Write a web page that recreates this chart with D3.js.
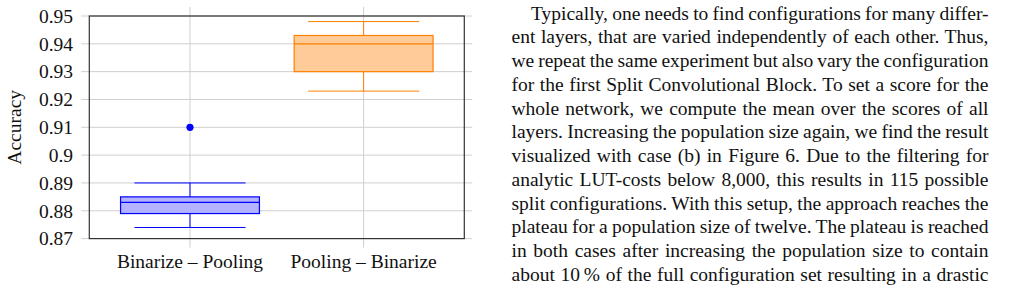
<!DOCTYPE html>
<html lang="en">
<head>
<meta charset="UTF-8" />
<title>Box plot</title>
<script src="https://d3js.org/d3.v7.min.js"></script>
<style>
    body { margin: 0; background: #fff; }
</style>
</head>
<body>
<svg width="1021" height="293"></svg>
<script>
// chart data
const categories = ["Binarize \u2013 Pooling", "Pooling \u2013 Binarize"];
const whiskerLow = [0.874, 0.923];
const q1 = [0.879, 0.930];
const median = [0.883, 0.940];
const q3 = [0.885, 0.943];
const whiskerHigh = [0.890, 0.948];
const outliers = [[0.910], []];
const yTicks = [0.87, 0.88, 0.89, 0.9, 0.91, 0.92, 0.93, 0.94, 0.95];
const strokeColors = ["#0000ff", "#ff8000"];
const fillColors = ["#b3b3ff", "#ffcc99"];

// paragraph next to the figure
const paragraph = [
    "Typically, one needs to find configurations for many differ-",
    "ent layers, that are varied independently of each other. Thus,",
    "we repeat the same experiment but also vary the configuration",
    "for the first Split Convolutional Block. To set a score for the",
    "whole network, we compute the mean over the scores of all",
    "layers. Increasing the population size again, we find the result",
    "visualized with case (b) in Figure 6. Due to the filtering for",
    "analytic LUT-costs below 8,000, this results in 115 possible",
    "split configurations. With this setup, the approach reaches the",
    "plateau for a population size of twelve. The plateau is reached",
    "in both cases after increasing the population size to contain",
    "about 10\u2009% of the full configuration set resulting in a drastic"
];

const serif = "'Liberation Serif', 'DejaVu Serif', serif";
const svg = d3.select("svg");
const plotLeft = 89.3, plotRight = 464.3, plotTop = 16, plotBottom = 238.6;

const x = d3.scaleLinear().domain([0.42, 2.58]).range([plotLeft, plotRight]);
const y = d3.scaleLinear().domain([0.87, 0.95]).range([plotBottom, plotTop]);

// grid (sticks out a bit past the frame)
const grid = svg.append("g").attr("stroke", "#cfcfcf").attr("stroke-width", 1);
grid.selectAll(".hg").data(yTicks).enter().append("line")
    .attr("x1", plotLeft - 8).attr("x2", plotRight + 8)
    .attr("y1", d => y(d)).attr("y2", d => y(d));
grid.selectAll(".vg").data(categories).enter().append("line")
    .attr("x1", (d, i) => x(i + 1)).attr("x2", (d, i) => x(i + 1))
    .attr("y1", plotTop - 9).attr("y2", plotBottom + 9);

// boxes
const boxW = 0.8, capW = 0.64;
const box = svg.selectAll(".box").data(categories).enter().append("g").attr("class", "box");

box.append("line") // lower whisker
    .attr("x1", (d, i) => x(i + 1)).attr("x2", (d, i) => x(i + 1))
    .attr("y1", (d, i) => y(whiskerLow[i])).attr("y2", (d, i) => y(q1[i]))
    .attr("stroke", (d, i) => strokeColors[i]);
box.append("line") // upper whisker
    .attr("x1", (d, i) => x(i + 1)).attr("x2", (d, i) => x(i + 1))
    .attr("y1", (d, i) => y(q3[i])).attr("y2", (d, i) => y(whiskerHigh[i]))
    .attr("stroke", (d, i) => strokeColors[i]);
box.append("line")
    .attr("x1", (d, i) => x(i + 1 - capW / 2)).attr("x2", (d, i) => x(i + 1 + capW / 2))
    .attr("y1", (d, i) => y(whiskerLow[i])).attr("y2", (d, i) => y(whiskerLow[i]))
    .attr("stroke", (d, i) => strokeColors[i]);
box.append("line")
    .attr("x1", (d, i) => x(i + 1 - capW / 2)).attr("x2", (d, i) => x(i + 1 + capW / 2))
    .attr("y1", (d, i) => y(whiskerHigh[i])).attr("y2", (d, i) => y(whiskerHigh[i]))
    .attr("stroke", (d, i) => strokeColors[i]);
box.append("rect")
    .attr("x", (d, i) => x(i + 1 - boxW / 2))
    .attr("width", (d, i) => x(i + 1 + boxW / 2) - x(i + 1 - boxW / 2))
    .attr("y", (d, i) => y(q3[i]))
    .attr("height", (d, i) => y(q1[i]) - y(q3[i]))
    .attr("fill", (d, i) => fillColors[i])
    .attr("stroke", (d, i) => strokeColors[i]).attr("stroke-width", 1.2);
box.append("line") // median
    .attr("x1", (d, i) => x(i + 1 - boxW / 2)).attr("x2", (d, i) => x(i + 1 + boxW / 2))
    .attr("y1", (d, i) => y(median[i])).attr("y2", (d, i) => y(median[i]))
    .attr("stroke", (d, i) => strokeColors[i]).attr("stroke-width", 1.2);
box.each(function (d, i) {
    d3.select(this).selectAll("circle").data(outliers[i]).enter().append("circle")
        .attr("cx", x(i + 1)).attr("cy", v => y(v)).attr("r", 3.6)
        .attr("fill", strokeColors[i]);
});

// frame
svg.append("rect")
    .attr("x", plotLeft).attr("y", plotTop)
    .attr("width", plotRight - plotLeft).attr("height", plotBottom - plotTop)
    .attr("fill", "none").attr("stroke", "#333").attr("stroke-width", 1.2);

// tick labels
svg.selectAll(".ytick").data(yTicks).enter().append("text")
    .attr("x", 73).attr("y", d => y(d)).attr("dy", "0.35em")
    .attr("text-anchor", "end")
    .attr("font-family", serif).attr("font-size", 19.5).attr("fill", "#111")
    .text(d => d3.format("")(+d.toFixed(2)));
svg.selectAll(".xtick").data(categories).enter().append("text")
    .attr("x", (d, i) => x(i + 1)).attr("y", 268)
    .attr("text-anchor", "middle")
    .attr("font-family", serif).attr("font-size", 19.5).attr("fill", "#111")
    .text(d => d);
svg.append("text")
    .attr("transform", "translate(21," + (plotTop + plotBottom) / 2 + ") rotate(-90)")
    .attr("text-anchor", "middle")
    .attr("font-family", serif).attr("font-size", 19.5).attr("fill", "#111")
    .text("Accuracy");

// justified paragraph
const textLeft = 511.5, textRight = 988.5, indent = 19.5, lineGap = 23.75, firstBase = 19.5;
svg.selectAll(".line").data(paragraph).enter().append("text")
    .attr("x", (d, i) => i === 0 ? textLeft + indent : textLeft)
    .attr("y", (d, i) => firstBase + i * lineGap)
    .attr("font-family", serif).attr("font-size", 19.5).attr("fill", "#111")
    .text(d => d)
    .each(function (d, i) {
        const target = textRight - (i === 0 ? textLeft + indent : textLeft);
        const len = this.getComputedTextLength();
        const spaces = d.split(" ").length - 1;
        d3.select(this).attr("word-spacing", (target - len) / spaces);
    });
</script>
</body>
</html>
